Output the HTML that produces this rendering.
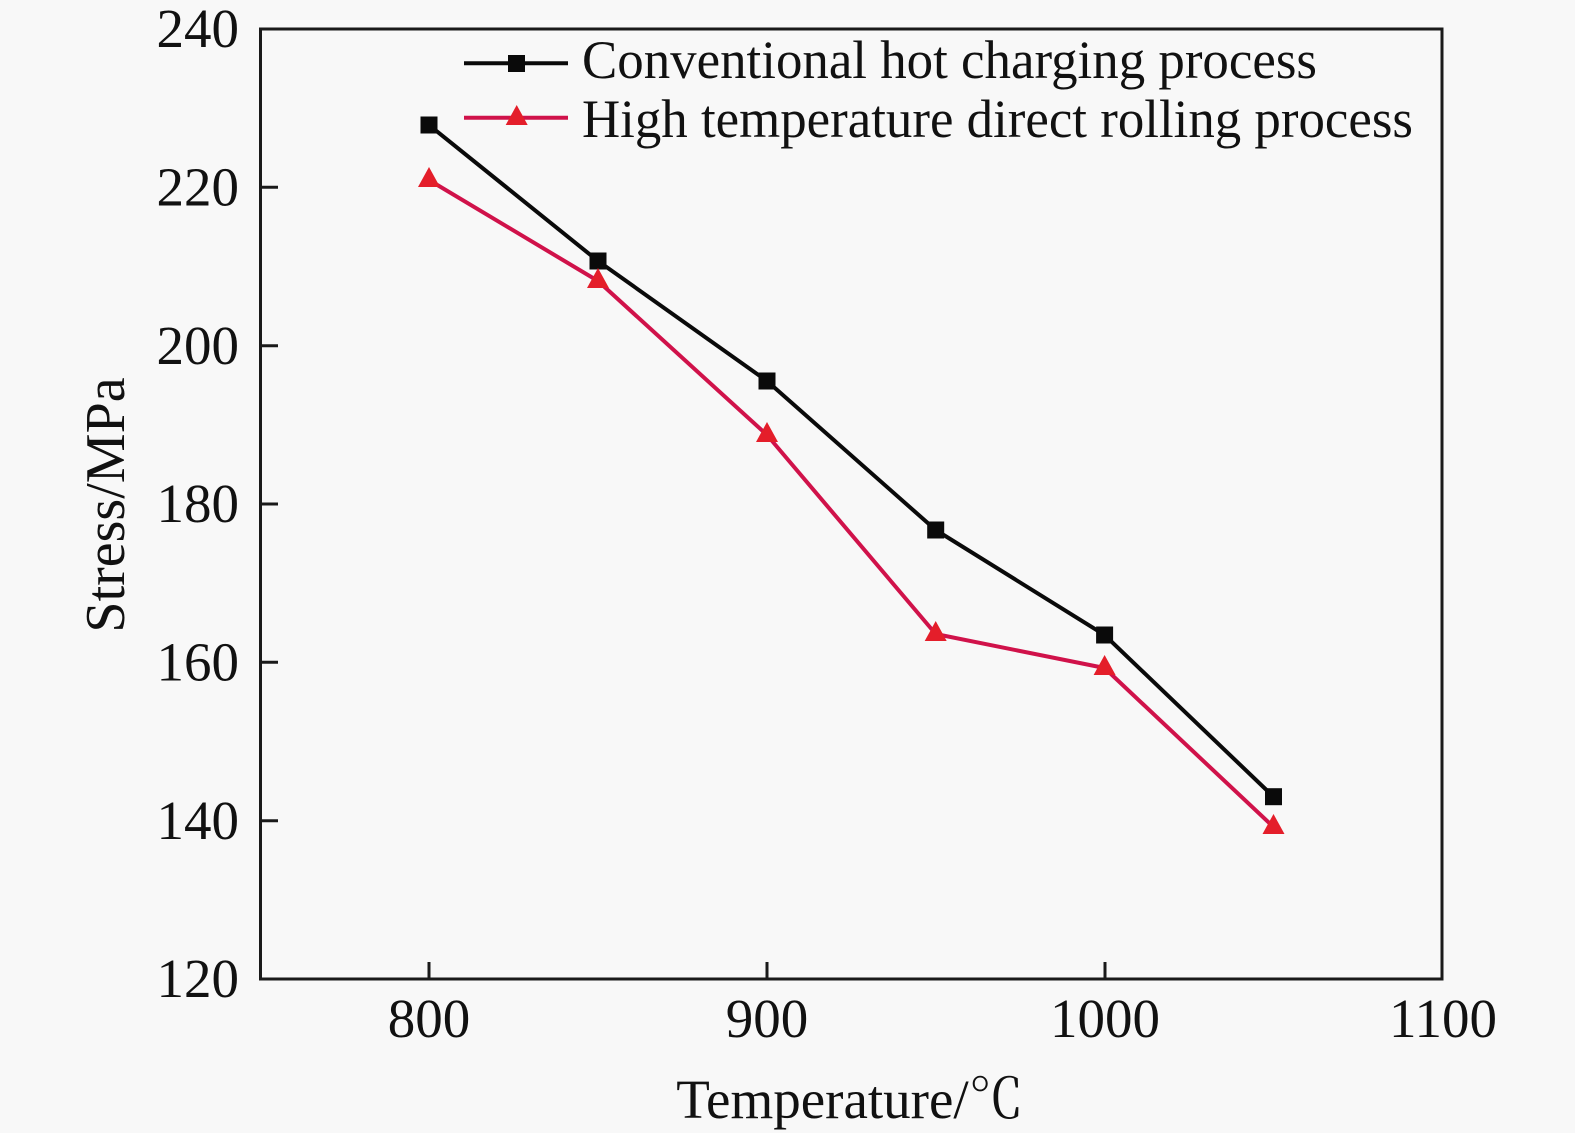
<!DOCTYPE html>
<html>
<head>
<meta charset="utf-8">
<style>
  html, body { margin: 0; padding: 0; background: #f8f8f8; }
  svg { display: block; }
  text { font-family: "Liberation Serif", "Noto Serif CJK SC", serif; fill: #111; }
</style>
</head>
<body>
<svg width="1575" height="1133" viewBox="0 0 1575 1133" xmlns="http://www.w3.org/2000/svg">
  <rect x="0" y="0" width="1575" height="1133" fill="#f8f8f8"/>

  <!-- Axes frame -->
  <rect x="260.5" y="29" width="1181.5" height="950" fill="none" stroke="#1a1a1a" stroke-width="3"/>

  <!-- X ticks (inward) -->
  <g stroke="#1a1a1a" stroke-width="3">
    <line x1="429" y1="979" x2="429" y2="962"/>
    <line x1="767" y1="979" x2="767" y2="962"/>
    <line x1="1105" y1="979" x2="1105" y2="962"/>
  </g>
  <!-- Y ticks (inward) -->
  <g stroke="#1a1a1a" stroke-width="3">
    <line x1="260" y1="187.3" x2="278" y2="187.3"/>
    <line x1="260" y1="345.7" x2="278" y2="345.7"/>
    <line x1="260" y1="504" x2="278" y2="504"/>
    <line x1="260" y1="662.3" x2="278" y2="662.3"/>
    <line x1="260" y1="820.7" x2="278" y2="820.7"/>
  </g>

  <!-- Y tick labels -->
  <g font-size="55" text-anchor="end">
    <text x="239" y="47">240</text>
    <text x="239" y="205.5">220</text>
    <text x="239" y="364">200</text>
    <text x="239" y="522">180</text>
    <text x="239" y="680.5">160</text>
    <text x="239" y="839">140</text>
    <text x="239" y="997">120</text>
  </g>

  <!-- X tick labels -->
  <g font-size="55" text-anchor="middle">
    <text x="429" y="1037">800</text>
    <text x="767" y="1037">900</text>
    <text x="1105" y="1037">1000</text>
    <text x="1443" y="1037">1100</text>
  </g>

  <!-- Axis titles -->
  <text x="850" y="1118" font-size="55" text-anchor="middle">Temperature/℃</text>
  <text transform="translate(124,505) rotate(-90)" font-size="56" text-anchor="middle">Stress/MPa</text>

  <!-- Series: Conventional hot charging (black) -->
  <polyline fill="none" stroke="#0a0a0a" stroke-width="4" stroke-linejoin="round"
    points="429,125 598,261 767,381 935.7,530 1104.6,635 1273.5,796.7"/>
  <g fill="#0a0a0a">
    <rect x="420.5" y="116.5" width="17" height="17"/>
    <rect x="589.5" y="252.5" width="17" height="17"/>
    <rect x="758.5" y="372.5" width="17" height="17"/>
    <rect x="927.2" y="521.5" width="17" height="17"/>
    <rect x="1096.1" y="626.5" width="17" height="17"/>
    <rect x="1265" y="788.2" width="17" height="17"/>
  </g>

  <!-- Series: High temperature direct rolling (red) -->
  <polyline fill="none" stroke="#d0124a" stroke-width="4" stroke-linejoin="round"
    points="429,180 598,281 767,435 935.7,634 1104.6,668 1273.5,827"/>
  <g fill="#e41e2a">
    <polygon points="429,167 440,187 418,187"/>
    <polygon points="598,268 609,288 587,288"/>
    <polygon points="767,422 778,442 756,442"/>
    <polygon points="935.7,621 946.7,641 924.7,641"/>
    <polygon points="1104.6,655 1115.6,675 1093.6,675"/>
    <polygon points="1273.5,814 1284.5,834 1262.5,834"/>
  </g>

  <!-- Legend -->
  <line x1="464" y1="63.3" x2="568" y2="63.3" stroke="#0a0a0a" stroke-width="4"/>
  <rect x="508" y="55" width="17" height="17" fill="#0a0a0a"/>
  <line x1="464" y1="117.7" x2="568" y2="117.7" stroke="#d0124a" stroke-width="4"/>
  <polygon points="516.7,105 527.7,125 505.7,125" fill="#e41e2a"/>

  <text x="582" y="78" font-size="54" textLength="735" lengthAdjust="spacingAndGlyphs">Conventional hot charging process</text>
  <text x="582" y="137" font-size="54" textLength="831" lengthAdjust="spacingAndGlyphs">High temperature direct rolling process</text>
</svg>
</body>
</html>
